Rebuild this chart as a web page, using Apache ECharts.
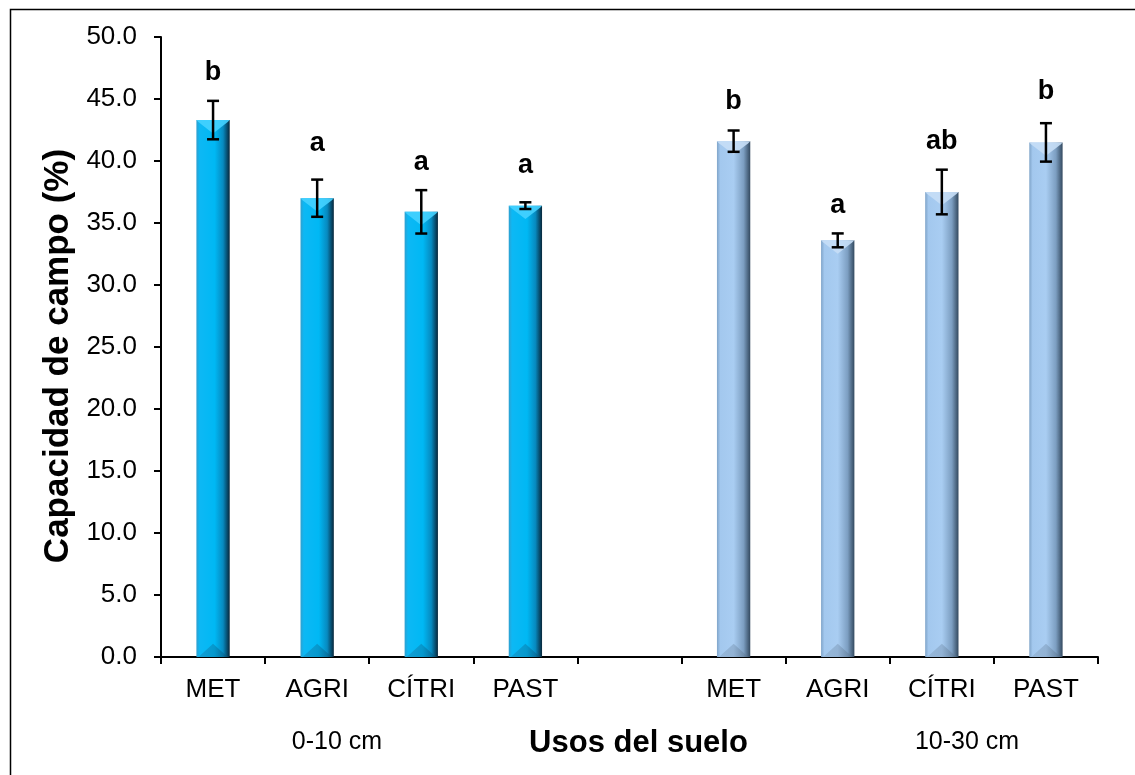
<!DOCTYPE html>
<html>
<head>
<meta charset="utf-8">
<script src="https://cdn.jsdelivr.net/npm/echarts@6/dist/echarts.min.js"></script>
<style>
html,body{margin:0;padding:0;background:#fff;}
#c{width:1135px;height:775px;}
</style>
</head>
<body>
<div id="c"></div>
<script>
// ---- data ----
var categories = ['MET', 'AGRI', 'CÍTRI', 'PAST', '', 'MET', 'AGRI', 'CÍTRI', 'PAST'];
var groupLabels = ['0-10 cm', '10-30 cm'];
var values0_10 = [43.3, 37.0, 35.9, 36.4];
var values10_30 = [41.6, 33.6, 37.5, 41.5];
var err0_10 = [1.55, 1.5, 1.75, 0.27];
var err10_30 = [0.86, 0.56, 1.8, 1.55];
var letters0_10 = ['b', 'a', 'a', 'a'];
var letters10_30 = ['b', 'a', 'ab', 'b'];
var letterY0_10 = [47.1, 41.4, 39.9, 39.6];
var letterY10_30 = [44.8, 36.4, 41.6, 45.6];
var yTicks = [0, 5, 10, 15, 20, 25, 30, 35, 40, 45, 50];

var FONT = 'Liberation Sans, Arial, sans-serif';

// build combined table (index 4 is the empty gap slot)
var rows = [];
for (var i = 0; i < 4; i++) rows.push({ idx: i, v: values0_10[i], e: err0_10[i], l: letters0_10[i], ly: letterY0_10[i], g: 0 });
for (var j = 0; j < 4; j++) rows.push({ idx: j + 5, v: values10_30[j], e: err10_30[j], l: letters10_30[j], ly: letterY10_30[j], g: 1 });

var palettes = [
  { body: [[0, '#2f9fcf'], [0.1, '#0db8f4'], [0.55, '#00b8f4'], [0.8, '#078ac0'], [1, '#08263a']],
    top: '#45d2ff', bottom: [[0, '#1a86b6'], [0.5, '#0b7aa8'], [1, '#075075']] },
  { body: [[0, '#7fa4c9'], [0.1, '#a3c8ee'], [0.5, '#a9cdf2'], [0.8, '#7c9ec1'], [1, '#33495f']],
    top: '#c6def6', bottom: [[0, '#8aa8c6'], [0.5, '#7b98b6'], [1, '#566e86']] }
];

function grad(stops) {
  return new echarts.graphic.LinearGradient(0, 0, 1, 0, stops.map(function (s) { return { offset: s[0], color: s[1] }; }));
}

var chart = echarts.init(document.getElementById('c'), null, { renderer: 'canvas' });

var option = {
  backgroundColor: '#fff',
  animation: false,
  grid: { left: 161, right: 37, top: 37, bottom: 118, containLabel: false },
  xAxis: {
    type: 'category',
    data: categories,
    boundaryGap: true,
    axisLine: { lineStyle: { color: '#000', width: 2 } },
    axisTick: { show: true, length: 7, lineStyle: { color: '#000', width: 2 } },
    axisLabel: { color: '#000', fontFamily: FONT, fontSize: 26, margin: 20, interval: 0 },
    name: 'Usos del suelo',
    nameLocation: 'middle',
    nameGap: 71,
    nameTextStyle: { color: '#000', fontFamily: FONT, fontSize: 31, fontWeight: 'bold', padding: [0, 0, 0, 18] }
  },
  yAxis: {
    type: 'value',
    min: 0, max: 50, interval: 5,
    splitLine: { show: false },
    axisLine: { show: true, lineStyle: { color: '#000', width: 2 } },
    axisTick: { show: true, length: 7, lineStyle: { color: '#000', width: 2 } },
    axisLabel: { color: '#000', fontFamily: FONT, fontSize: 26, margin: 24,
      formatter: function (v) { return yTicks.indexOf(v) >= 0 ? v.toFixed(1) : ''; } },
    name: 'Capacidad de campo (%)',
    nameLocation: 'middle',
    nameGap: 82,
    nameTextStyle: { color: '#000', fontFamily: FONT, fontSize: 35, fontWeight: 'bold', padding: [0, 18, 0, 0] }
  },
  series: [
    {
      type: 'custom',
      name: 'bars',
      data: rows.map(function (r) { return [r.idx, r.v, r.g]; }),
      encode: { x: 0, y: 1 },
      z: 2,
      renderItem: function (params, api) {
        var x = api.value(0), v = api.value(1), g = api.value(2);
        var p = palettes[g];
        var top = api.coord([x, v]);
        var base = api.coord([x, 0]);
        var w = api.size([1, 0])[0] * 0.32;
        var x0 = top[0] - w / 2, x1 = top[0] + w / 2;
        var h = base[1] - top[1];
        var bev = w * 0.4;
        return {
          type: 'group',
          children: [
            { type: 'rect', shape: { x: x0, y: top[1], width: w, height: h }, style: { fill: grad(p.body) } },
            { type: 'polygon', shape: { points: [[x0, top[1]], [x1, top[1]], [x1 - 2, top[1] + 2], [top[0], top[1] + bev], [x0 + 2, top[1] + 2]] },
              style: { fill: p.top, opacity: 0.9 } },
            { type: 'polygon', shape: { points: [[x0 + 2, base[1]], [x1 - 2, base[1]], [top[0], base[1] - bev]] },
              style: { fill: grad(p.bottom), opacity: 0.5 } }
          ]
        };
      }
    },
    {
      type: 'custom',
      name: 'error',
      data: rows.map(function (r) { return [r.idx, r.v - r.e, r.v + r.e]; }),
      encode: { x: 0, y: [1, 2] },
      z: 5,
      renderItem: function (params, api) {
        var x = api.value(0);
        var lo = api.coord([x, api.value(1)]);
        var hi = api.coord([x, api.value(2)]);
        var cw = 6;
        var st = { stroke: '#000', lineWidth: 2.5 };
        return {
          type: 'group',
          children: [
            { type: 'line', shape: { x1: lo[0], y1: lo[1], x2: hi[0], y2: hi[1] }, style: st },
            { type: 'line', shape: { x1: lo[0] - cw, y1: lo[1], x2: lo[0] + cw, y2: lo[1] }, style: st },
            { type: 'line', shape: { x1: hi[0] - cw, y1: hi[1], x2: hi[0] + cw, y2: hi[1] }, style: st }
          ]
        };
      }
    },
    {
      type: 'custom',
      name: 'letters',
      z: 6,
      data: rows.map(function (r) { return [r.idx, r.ly, r.l]; }),
      encode: { x: 0, y: 1 },
      renderItem: function (params, api) {
        var pt = api.coord([api.value(0), api.value(1)]);
        return {
          type: 'text',
          x: pt[0], y: pt[1],
          style: { text: String(api.value(2)), fill: '#000', font: 'bold 27px ' + FONT, align: 'center', verticalAlign: 'middle' }
        };
      }
    }
  ],
  graphic: [
    { type: 'rect', left: 8, top: 7, shape: { width: 1200, height: 820 }, style: { fill: 'none', stroke: '#000', lineWidth: 1.5 }, silent: true, z: -1 },
    { type: 'text', x: 337, y: 742, style: { text: groupLabels[0], fill: '#000', font: '25px ' + FONT, align: 'center', verticalAlign: 'middle' } },
    { type: 'text', x: 967, y: 742, style: { text: groupLabels[1], fill: '#000', font: '25px ' + FONT, align: 'center', verticalAlign: 'middle' } }
  ]
};
chart.setOption(option);
</script>
</body>
</html>
